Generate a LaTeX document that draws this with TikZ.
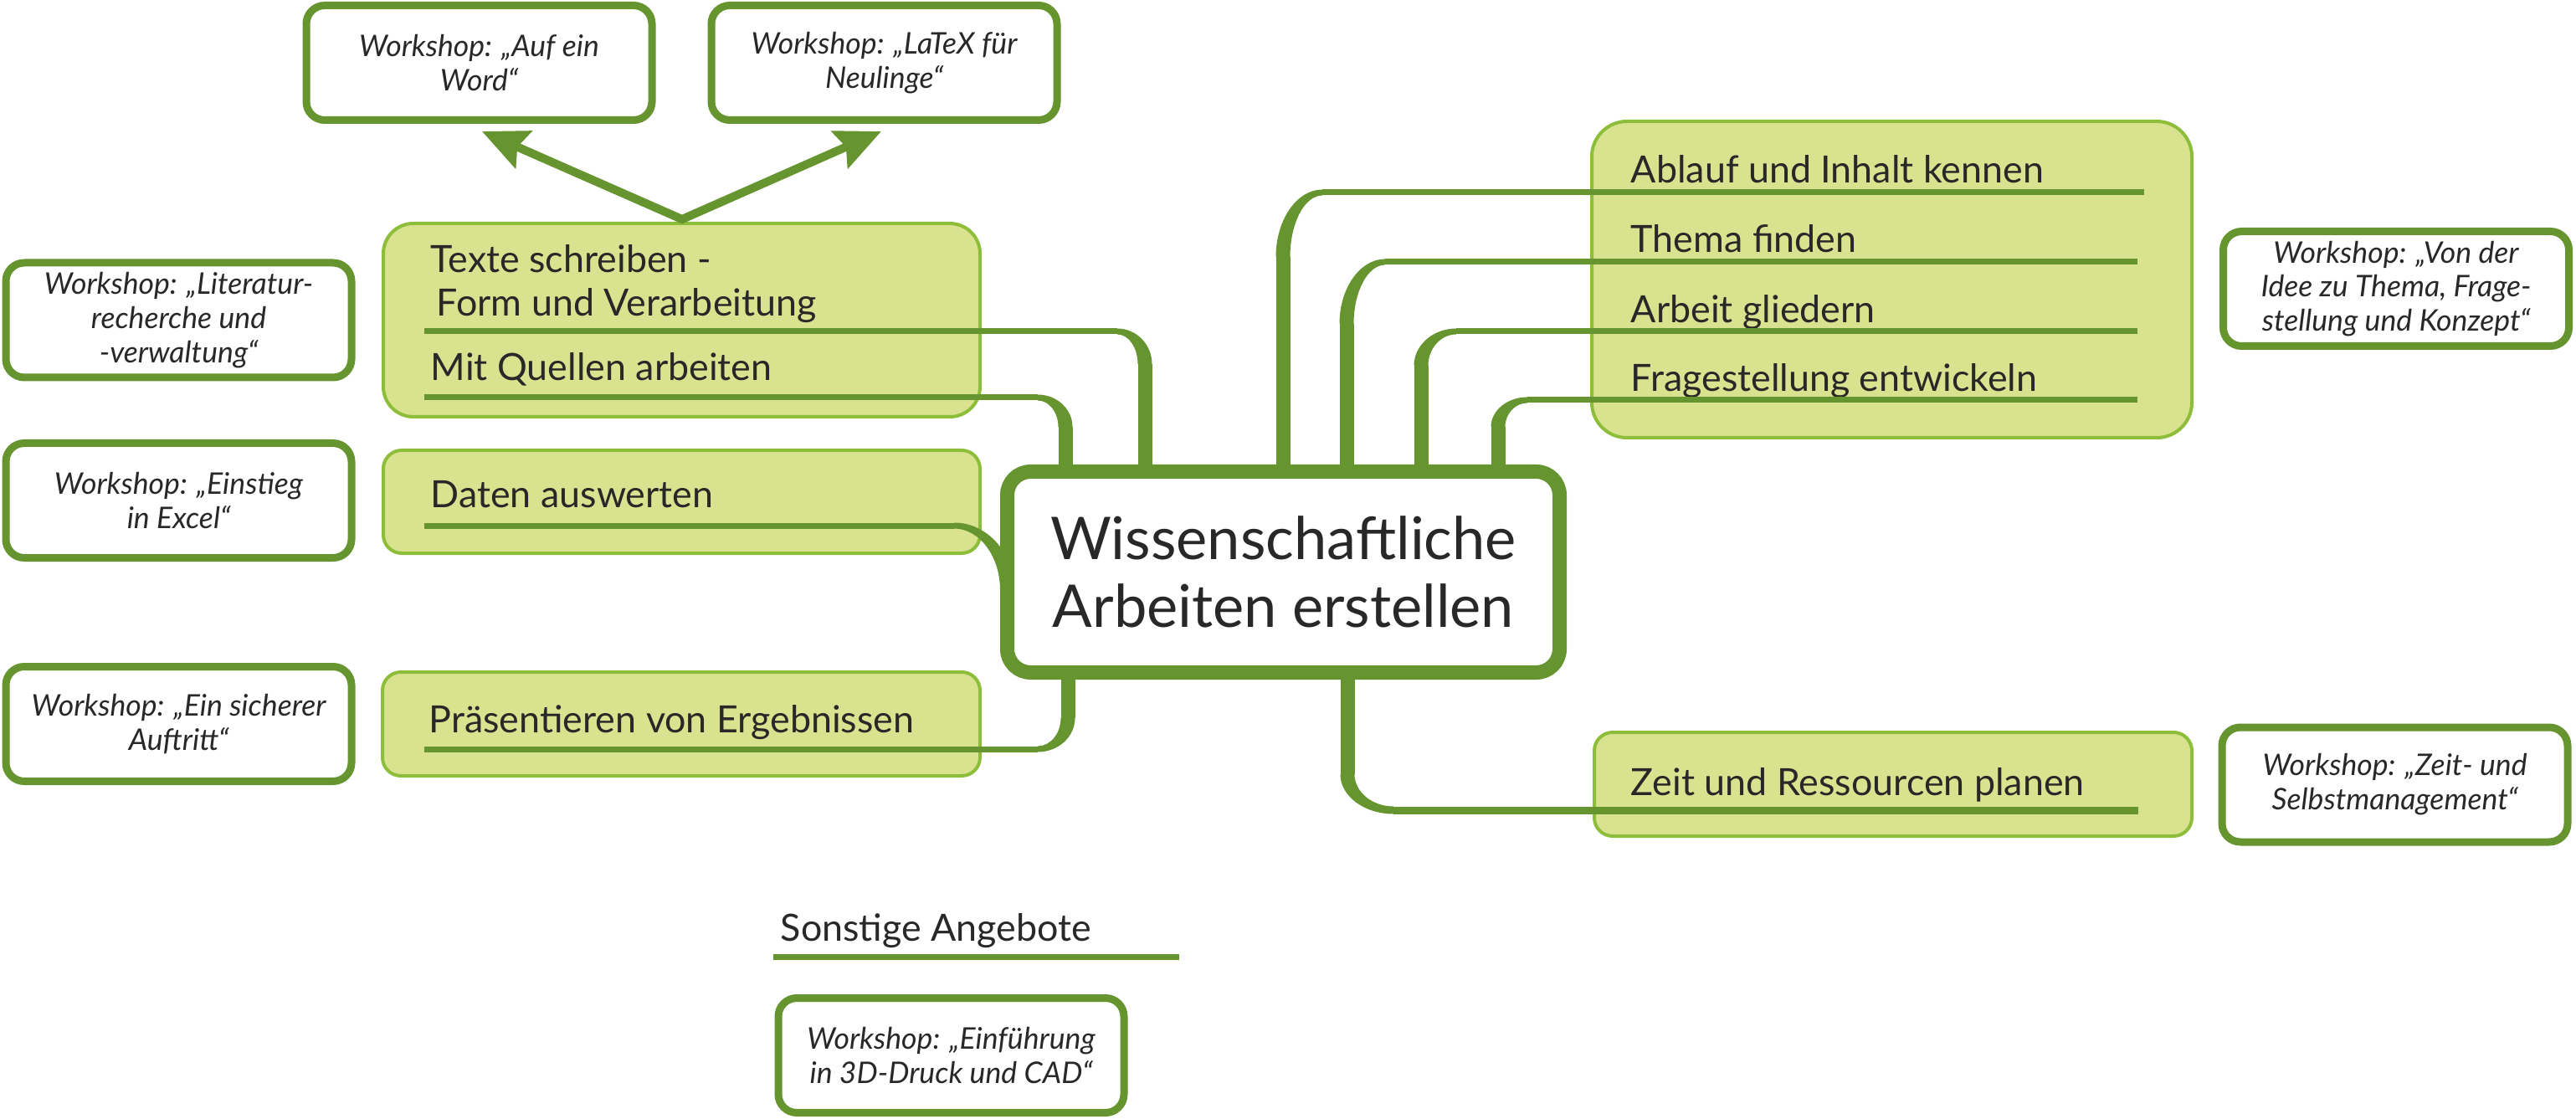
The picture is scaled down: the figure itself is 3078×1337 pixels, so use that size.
\documentclass[tikz,border=0pt]{standalone}
\usepackage{fontspec}
\setmainfont{Lato}
\usetikzlibrary{arrows.meta}
\definecolor{dg}{RGB}{102,148,46}
\definecolor{lg}{RGB}{141,190,58}
\definecolor{lf}{RGB}{217,226,143}
\definecolor{tx}{RGB}{40,40,40}
% tapered rounded corner of a branch: {x1}{h}{v}{y2}{signed half width of vertical}{half width of horizontal}
\newcommand{\brcorner}[6]{%
  \fill[dg] (#1,{#2-(#6)}) .. controls ({#1+0.55*(#3+(#5)-#1)},{#2-(#6)}) and ({#3+(#5)},{#4+0.55*(#2-(#6)-#4)}) .. ({#3+(#5)},#4)
    -- ({#3-(#5)},#4) .. controls ({#3-(#5)},{#4+0.55*(#2+(#6)-#4)}) and ({#1+0.55*(#3-(#5)-#1)},{#2+(#6)}) .. (#1,{#2+(#6)}) -- cycle;}
\begin{document}
\begin{tikzpicture}[x=0.25pt,y=-0.25pt,
  wsbox/.style={draw=dg, line width=2.25pt, fill=white, rounded corners=5.5pt,
    minimum width=103.25pt, minimum height=34.25pt, inner sep=0pt, align=center,
    text=tx, font=\itshape\fontsize{8.9}{10.2}\selectfont},
  topic/.style={draw=lg, line width=1pt, fill=lf, rounded corners=5.5pt, inner sep=0pt},
  lbl/.style={anchor=base west, inner sep=0pt, text=tx, font=\fontsize{11.2}{13.25}\selectfont},
  conn/.style={draw=dg, line width=1.75pt},
  connv/.style={draw=dg, line width=4.25pt},
  arr/.style={draw=dg, line width=2.5pt, miter limit=10, {Stealth[length=13.5pt,width=12pt,inset=2pt]}-{Stealth[length=13.5pt,width=12pt,inset=2pt]}}
]
\useasboundingbox (0,0) rectangle (3078,1337);

% topic boxes
\node[topic, minimum width=178.25pt, minimum height=57.75pt, rounded corners=9pt] (bTexte) at (814.5,382.5) {};
\node[topic, minimum width=178.25pt, minimum height=30.75pt] (bDaten) at (814.5,599.5) {};
\node[topic, minimum width=178.5pt, minimum height=31pt] (bPraes) at (814,865) {};
\node[topic, minimum width=179.25pt, minimum height=94.5pt, rounded corners=10.5pt] (bRight) at (2260.5,334) {};
\node[topic, minimum width=178.5pt, minimum height=31pt] (bZeit) at (2262,937) {};

% workshop boxes
\node[wsbox] (wWord) at (572.5,75) {Workshop: „Auf ein\\Word“};
\node[wsbox] (wLatex) at (1056.5,75) {Workshop: „LaTeX für\\Neulinge“};
\node[wsbox] (wLit) at (213.5,382.5) {Workshop: „Literatur-\\recherche und\\-verwaltung“};
\node[wsbox] (wExcel) at (213.5,598) {Workshop: „Einstieg\\in Excel“};
\node[wsbox] (wAuf) at (213.5,865) {Workshop: „Ein sicherer\\Auftritt“};
\node[wsbox] (wIdee) at (2863,345) {Workshop: „Von der\\Idee zu Thema, Frage-\\stellung und Konzept“};
\node[wsbox] (wZeit) at (2861.5,937.5) {Workshop: „Zeit- und\\Selbstmanagement“};
\node[wsbox] (w3d) at (1136.5,1261) {Workshop: „Einführung\\in 3D-Druck und CAD“};

% arrows
\coordinate (apex) at (815,262);
\coordinate (tipW) at (576,157);
\coordinate (tipL) at (1053,157);
\draw[arr] (tipW) -- (apex) -- (tipL);

% labels
\node[lbl] (tTexte) at (514,325) {Texte schreiben -};
\node[lbl] (tForm) at (521,378) {Form und Verarbeitung};
\node[lbl] (tQuellen) at (514,455) {Mit Quellen arbeiten};
\node[lbl] (tDaten) at (514,607) {Daten auswerten};
\node[lbl] (tPraes) at (512,875) {Präsentieren von Ergebnissen};
\node[lbl] (tAblauf) at (1948,219) {Ablauf und Inhalt kennen};
\node[lbl] (tThema) at (1948,302) {Thema finden};
\node[lbl] (tArbeit) at (1948,386) {Arbeit gliedern};
\node[lbl] (tFrage) at (1948,468) {Fragestellung entwickeln};
\node[lbl] (tZeit) at (1948,950) {Zeit und Ressourcen planen};
\node[lbl] (tSonst) at (932,1124) {Sonstige Angebote};

% connectors: Texte
\coordinate (te0) at (507,396); \coordinate (te1) at (1335,396); \coordinate (te2) at (1368,435); \coordinate (te3) at (1368,563.5);
\draw[conn] (te0) -- (te1); \brcorner{1335}{396}{1368}{435}{8.5}{3.5} \draw[connv] (te2) -- (te3);
% Quellen
\coordinate (q0) at (507,475); \coordinate (q1) at (1240,475); \coordinate (q2) at (1273,510); \coordinate (q3) at (1273,563.5);
\draw[conn] (q0) -- (q1); \brcorner{1240}{475}{1273}{510}{8.5}{3.5} \draw[connv] (q2) -- (q3);
% Daten
\coordinate (d0) at (507,628); \coordinate (d1) at (1140,628); \coordinate (d2) at (1203.5,705); \coordinate (d3) at (1203.5,720);
\draw[conn] (d0) -- (d1); \brcorner{1140}{628}{1203.5}{705}{8.5}{3.5} \draw[connv] (d2) -- (d3);
% Praes
\coordinate (p0) at (507,895); \coordinate (p1) at (1240,895); \coordinate (p2) at (1276,858); \coordinate (p3) at (1276,803.5);
\draw[conn] (p0) -- (p1); \brcorner{1240}{895}{1276}{858}{-8.5}{3.5} \draw[connv] (p2) -- (p3);
% Ablauf
\coordinate (a0) at (2562,230); \coordinate (a1) at (1580,230); \coordinate (a2) at (1533,307); \coordinate (a3) at (1533,563.5);
\draw[conn] (a0) -- (a1); \brcorner{1580}{230}{1533}{307}{-8.5}{3.5} \draw[connv] (a2) -- (a3);
% Thema
\coordinate (th0) at (2554,313); \coordinate (th1) at (1655,313); \coordinate (th2) at (1609,387); \coordinate (th3) at (1609,563.5);
\draw[conn] (th0) -- (th1); \brcorner{1655}{313}{1609}{387}{-8.5}{3.5} \draw[connv] (th2) -- (th3);
% Arbeit
\coordinate (ar0) at (2554,396); \coordinate (ar1) at (1740,396); \coordinate (ar2) at (1698,437); \coordinate (ar3) at (1698,563.5);
\draw[conn] (ar0) -- (ar1); \brcorner{1740}{396}{1698}{437}{-8.5}{3.5} \draw[connv] (ar2) -- (ar3);
% Frage
\coordinate (f0) at (2554,478); \coordinate (f1) at (1825,478); \coordinate (f2) at (1790,510); \coordinate (f3) at (1790,563.5);
\draw[conn] (f0) -- (f1); \brcorner{1825}{478}{1790}{510}{-8.5}{3.5} \draw[connv] (f2) -- (f3);
% Zeit
\coordinate (z0) at (1610,803.5); \coordinate (z1) at (1610,925); \coordinate (z2) at (1665,968); \coordinate (z3) at (2555,968);
\draw[connv] (z0) -- (z1); \brcorner{1665}{968}{1610}{925}{8.5}{4.5} \draw[conn, line width=2.25pt] (z2) -- (z3);
% Sonstige underline
\coordinate (s0) at (924,1143); \coordinate (s1) at (1409,1143);
\draw[conn] (s0) -- (s1);

% central node
\node[draw=dg, line width=4.25pt, fill=white, rounded corners=7pt,
  minimum width=165pt, minimum height=60pt, inner sep=0pt, align=center,
  text=tx, font=\fontsize{17.6}{20.25}\selectfont] (c) at (1533.5,683.5)
  {Wissenschaftliche\\Arbeiten erstellen};
\end{tikzpicture}
\end{document}
